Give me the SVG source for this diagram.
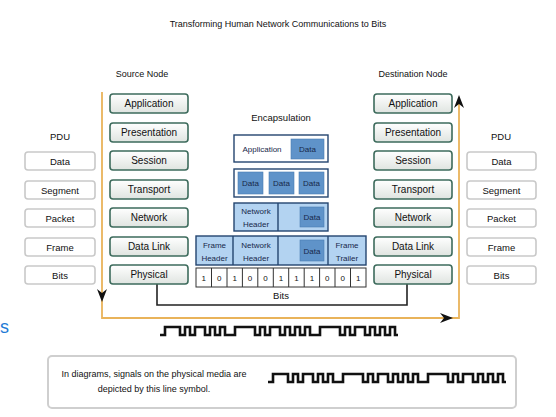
<svg xmlns="http://www.w3.org/2000/svg" width="556" height="417" viewBox="0 0 556 417">
<defs>
<linearGradient id="lg" x1="0" y1="0" x2="0" y2="1">
<stop offset="0" stop-color="#ffffff"/>
<stop offset="1" stop-color="#dfe4e0"/>
</linearGradient>
<path id="wave" d="M0,8 h5 v-8 h15 v8 h5 v-8 h5 v8 h5 v-8 h10 v8 h5 v-8 h5 v8 h5 v-8 h5 v8 h10 v-8 h20 v8 h5 v-8 h5 v8 h5 v-8 h10 v8 h5 v-8 h5 v8 h5 v-8 h5 v8 h5 v-8 h5 v8 h10 v-8 h20 v8 h5 v-8 h5 v8 h5 v-8 h10 v8 h5 v-8 h5 v8 h5 v-8 h5 v8 h5 v-8 h5 v8 h3" fill="none" stroke="#111" stroke-width="2.6" stroke-linejoin="miter"/>
</defs>
<style>
text{font-family:"Liberation Sans",Arial,sans-serif;fill:#111;text-anchor:middle}
.layer{fill:url(#lg);stroke:#3d6b5c;stroke-width:1.6}
.lt{font-size:10px}
.pdu{fill:#fff;stroke:#c9c9c9;stroke-width:1.6}
.pt{font-size:9.5px}
.hd{font-size:9px}
.enc{stroke:#24456f;stroke-width:1.4}
.lb{fill:#b3d3f1}
.db{fill:#5f93c9;stroke:#4a7db3;stroke-width:0.6}
.et{font-size:8px;fill:#17284a}
.bit{fill:#fff;stroke:#333;stroke-width:1}
.bt{font-size:8px}
</style>
<rect width="556" height="417" fill="#fff"/>
<text x="278" y="27" class="hd">Transforming Human Network Communications to Bits</text>
<text x="142" y="77" class="hd">Source Node</text>
<text x="413" y="77" class="hd">Destination Node</text>
<text x="281" y="121" class="pt">Encapsulation</text>
<text x="60" y="140" class="pt">PDU</text>
<text x="501" y="140" class="pt">PDU</text>
<text x="0" y="333" style="font-size:18px;fill:#1e7bd6;text-anchor:start">s</text>

<g id="connectors">
<path d="M102,92 V318 H459 V98" fill="none" stroke="#e9b35a" stroke-width="1.8"/>
<polygon points="102,302 97,289 102,293 107,289" fill="#111"/>
<polygon points="453,318 440,313 444,318 440,323" fill="#111"/>
<polygon points="459,95 454,108 459,104 464,108" fill="#111"/>
<path d="M157,284 V305 H407 V284" fill="none" stroke="#222" stroke-width="1.6"/>
</g>

<g id="source-node">
<rect x="110" y="94" width="78" height="19" rx="3" class="layer"/><text x="149" y="107" class="lt">Application</text>
<rect x="110" y="123" width="78" height="19" rx="3" class="layer"/><text x="149" y="136" class="lt">Presentation</text>
<rect x="110" y="151" width="78" height="19" rx="3" class="layer"/><text x="149" y="164" class="lt">Session</text>
<rect x="110" y="180" width="78" height="19" rx="3" class="layer"/><text x="149" y="193" class="lt">Transport</text>
<rect x="110" y="208" width="78" height="19" rx="3" class="layer"/><text x="149" y="221" class="lt">Network</text>
<rect x="110" y="237" width="78" height="19" rx="3" class="layer"/><text x="149" y="250" class="lt">Data Link</text>
<rect x="110" y="265" width="78" height="19" rx="3" class="layer"/><text x="149" y="278" class="lt">Physical</text>
</g>

<g id="destination-node">
<rect x="374" y="94" width="78" height="19" rx="3" class="layer"/><text x="413" y="107" class="lt">Application</text>
<rect x="374" y="123" width="78" height="19" rx="3" class="layer"/><text x="413" y="136" class="lt">Presentation</text>
<rect x="374" y="151" width="78" height="19" rx="3" class="layer"/><text x="413" y="164" class="lt">Session</text>
<rect x="374" y="180" width="78" height="19" rx="3" class="layer"/><text x="413" y="193" class="lt">Transport</text>
<rect x="374" y="208" width="78" height="19" rx="3" class="layer"/><text x="413" y="221" class="lt">Network</text>
<rect x="374" y="237" width="78" height="19" rx="3" class="layer"/><text x="413" y="250" class="lt">Data Link</text>
<rect x="374" y="265" width="78" height="19" rx="3" class="layer"/><text x="413" y="278" class="lt">Physical</text>
</g>

<g id="pdu-left">
<rect x="25" y="152" width="70" height="18" rx="3" class="pdu"/><text x="60" y="164.5" class="pt">Data</text>
<rect x="25" y="181" width="70" height="18" rx="3" class="pdu"/><text x="60" y="193.5" class="pt">Segment</text>
<rect x="25" y="209" width="70" height="18" rx="3" class="pdu"/><text x="60" y="221.5" class="pt">Packet</text>
<rect x="25" y="238" width="70" height="18" rx="3" class="pdu"/><text x="60" y="250.5" class="pt">Frame</text>
<rect x="25" y="266" width="70" height="18" rx="3" class="pdu"/><text x="60" y="278.5" class="pt">Bits</text>
</g>

<g id="pdu-right">
<rect x="467" y="152" width="69" height="18" rx="3" class="pdu"/><text x="501.5" y="164.5" class="pt">Data</text>
<rect x="467" y="181" width="69" height="18" rx="3" class="pdu"/><text x="501.5" y="193.5" class="pt">Segment</text>
<rect x="467" y="209" width="69" height="18" rx="3" class="pdu"/><text x="501.5" y="221.5" class="pt">Packet</text>
<rect x="467" y="238" width="69" height="18" rx="3" class="pdu"/><text x="501.5" y="250.5" class="pt">Frame</text>
<rect x="467" y="266" width="69" height="18" rx="3" class="pdu"/><text x="501.5" y="278.5" class="pt">Bits</text>
</g>

<g id="enc-application">
<rect x="234" y="135" width="94" height="27" fill="#fff" class="enc"/>
<text x="262" y="152" class="et">Application</text>
<rect x="291" y="139" width="33" height="20" class="db"/><text x="307.5" y="152" class="et">Data</text>
</g>

<g id="enc-data">
<rect x="234" y="169" width="94" height="28" fill="#fff" class="enc"/>
<rect x="238" y="172" width="25" height="22" class="db"/><text x="250.5" y="186" class="et">Data</text>
<rect x="269" y="172" width="25" height="22" class="db"/><text x="281.5" y="186" class="et">Data</text>
<rect x="299" y="172" width="25" height="22" class="db"/><text x="311.5" y="186" class="et">Data</text>
</g>

<g id="enc-packet">
<rect x="234" y="203" width="94" height="28" class="enc lb"/>
<line x1="278" y1="203" x2="278" y2="231" class="enc"/>
<text x="256" y="214" class="et">Network</text><text x="256" y="227" class="et">Header</text>
<rect x="300" y="207" width="24" height="20" class="db"/><text x="312" y="220" class="et">Data</text>
</g>

<g id="enc-frame">
<rect x="196" y="236" width="170" height="29" class="enc lb"/>
<line x1="233" y1="236" x2="233" y2="265" class="enc"/>
<line x1="278" y1="236" x2="278" y2="265" class="enc"/>
<line x1="328" y1="236" x2="328" y2="265" class="enc"/>
<text x="214.5" y="248" class="et">Frame</text><text x="214.5" y="261" class="et">Header</text>
<text x="256" y="248" class="et">Network</text><text x="256" y="261" class="et">Header</text>
<rect x="300" y="240" width="24" height="21" class="db"/><text x="312" y="254" class="et">Data</text>
<text x="347" y="248" class="et">Frame</text><text x="347" y="261" class="et">Trailer</text>
</g>

<g id="enc-bits">
<rect x="196" y="268" width="170" height="19" class="bit"/>
<path d="M211.5,268V287M227,268V287M242.4,268V287M257.8,268V287M273.3,268V287M288.7,268V287M304.2,268V287M319.6,268V287M335,268V287M350.5,268V287" stroke="#333" stroke-width="1"/>
<text x="203.7" y="281" class="bt">1</text>
<text x="219.2" y="281" class="bt">0</text>
<text x="234.7" y="281" class="bt">1</text>
<text x="250.1" y="281" class="bt">0</text>
<text x="265.6" y="281" class="bt">0</text>
<text x="281" y="281" class="bt">1</text>
<text x="296.4" y="281" class="bt">1</text>
<text x="311.9" y="281" class="bt">1</text>
<text x="327.3" y="281" class="bt">0</text>
<text x="342.8" y="281" class="bt">0</text>
<text x="358.2" y="281" class="bt">1</text>
<text x="281" y="299" class="pt">Bits</text>
</g>

<use href="#wave" x="160" y="327"/>

<g id="legend">
<rect x="48" y="356" width="468" height="52" rx="4" fill="#fff" stroke="#cfcfcf" stroke-width="2"/>
<text x="154" y="377" class="hd">In diagrams, signals on the physical media are</text>
<text x="154" y="392" class="hd">depicted by this line symbol.</text>
<use href="#wave" x="268" y="374"/>
</g>
</svg>
